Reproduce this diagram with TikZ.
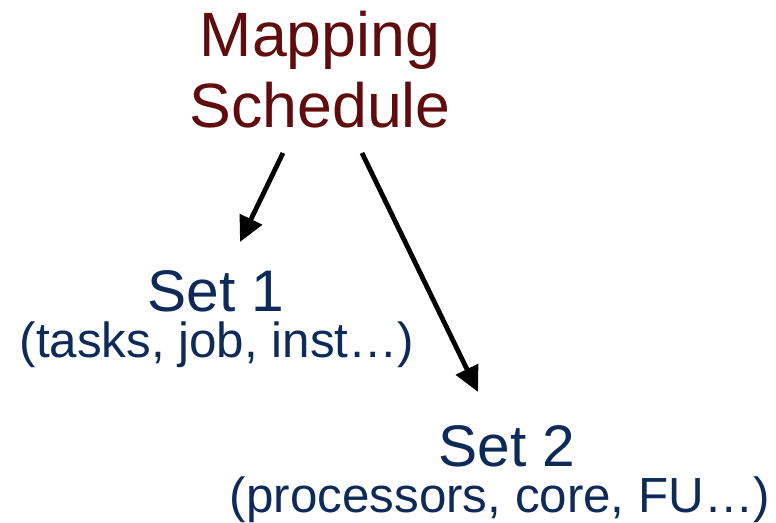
\documentclass[tikz,border=0pt]{standalone}
\usepackage{fontspec}
\setmainfont{Liberation Sans}
\usetikzlibrary{arrows.meta}
\definecolor{mapred}{RGB}{96,12,12}
\definecolor{setblue}{RGB}{14,42,88}
\tikzset{
  big/.style={anchor=base,inner sep=0pt,text=setblue,font=\fontsize{44}{50}\selectfont},
  small/.style={anchor=base,inner sep=0pt,text=setblue,font=\fontsize{37}{42}\selectfont},
  arr/.style={line width=3.6pt,-{Triangle[length=19pt,width=18pt]}}
}

\begin{document}
\begin{tikzpicture}[x=0.75pt,y=-0.75pt]
\useasboundingbox (0,0) rectangle (776,523);
\node[anchor=base,inner sep=0pt,text=mapred,font=\fontsize{47}{53}\selectfont] (map) at (320,57) {Mapping};
\node[anchor=base,inner sep=0pt,text=mapred,font=\fontsize{47}{53}\selectfont] (sched) at (320,128) {Schedule};
\node[big] (set1) at (216,312) {Set 1};
\node[small] (sub1) at (217,358) {(tasks, job, inst…)};
\node[big] (set2) at (507,467) {Set 2};
\node[small] (sub2) at (500,513) {(processors, core, FU…)};
\coordinate (A) at (283,153);
\coordinate (B) at (240,242);
\coordinate (C) at (362,153);
\coordinate (D) at (478,392);
\draw[arr] (A) -- (B);
\draw[arr] (C) -- (D);
\end{tikzpicture}
\end{document}
